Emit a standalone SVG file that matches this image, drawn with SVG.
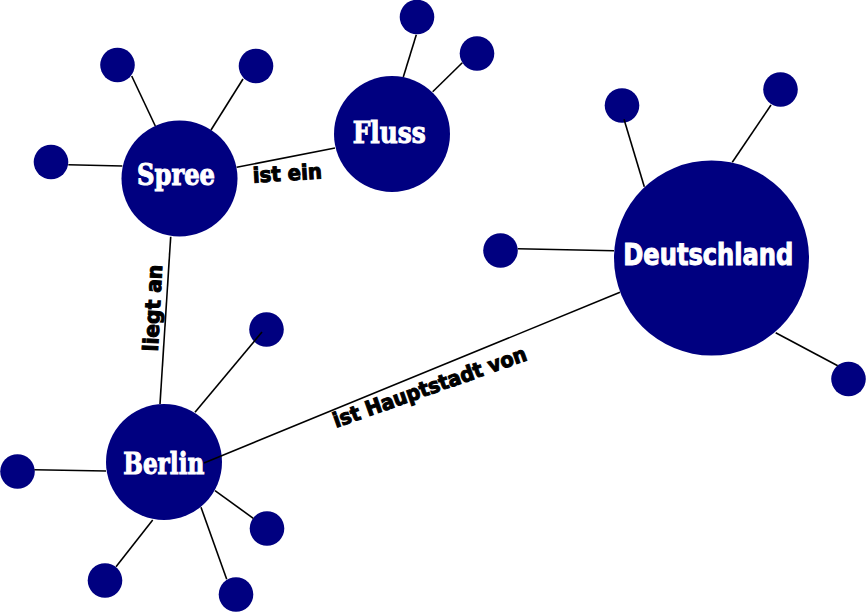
<svg xmlns="http://www.w3.org/2000/svg" width="866" height="612" viewBox="0 0 866 612">
<style>
.node{fill:#000080}
.leaf{fill:#000080}
.link{stroke:#000;stroke-width:1.6;fill:none}
.nl{fill:#fff;stroke:#fff;stroke-width:1;font-family:"DejaVu Serif Condensed","DejaVu Serif",serif;font-weight:bold;font-size:30px}
.nls{fill:#fff;stroke:#fff;stroke-width:1;font-family:"DejaVu Sans Condensed","DejaVu Sans",sans-serif;font-weight:bold;font-size:30px}
.el{fill:#000;stroke:#000;stroke-width:1;font-family:"DejaVu Sans Condensed","DejaVu Sans",sans-serif;font-weight:bold;font-size:21px}
</style>
<rect width="866" height="612" fill="#fff"/>
<g id="spree">
<circle class="node" cx="179.5" cy="178.5" r="58"/>
<circle class="leaf" cx="117.5" cy="65" r="17.3"/>
<circle class="leaf" cx="256" cy="66" r="17.3"/>
<circle class="leaf" cx="51" cy="162" r="17.3"/>
<text class="nl" x="137" y="185" textLength="78" lengthAdjust="spacingAndGlyphs">Spree</text>
</g>
<g id="fluss">
<circle class="node" cx="392" cy="134" r="58"/>
<circle class="leaf" cx="417" cy="17" r="17.3"/>
<circle class="leaf" cx="477" cy="53.5" r="17.3"/>
<text class="nl" x="352.7" y="142.7" textLength="73" lengthAdjust="spacingAndGlyphs">Fluss</text>
</g>
<g id="deutschland">
<circle class="node" cx="711.5" cy="258" r="97.5"/>
<circle class="leaf" cx="622" cy="105.5" r="17.3"/>
<circle class="leaf" cx="780.5" cy="89.5" r="17.3"/>
<circle class="leaf" cx="500.5" cy="250.5" r="17.3"/>
<circle class="leaf" cx="848.5" cy="379" r="17.3"/>
<text class="nls" x="623.3" y="264.7" textLength="170" lengthAdjust="spacingAndGlyphs">Deutschland</text>
</g>
<g id="berlin">
<circle class="node" cx="164" cy="462" r="58"/>
<circle class="leaf" cx="266.5" cy="329.5" r="17.3"/>
<circle class="leaf" cx="17.5" cy="471.5" r="17.3"/>
<circle class="leaf" cx="267" cy="528.5" r="17.3"/>
<circle class="leaf" cx="105" cy="580.5" r="17.3"/>
<circle class="leaf" cx="236" cy="594.5" r="17.3"/>
<text class="nl" x="123.3" y="474" textLength="81" lengthAdjust="spacingAndGlyphs">Berlin</text>
</g>
<g id="connectors">
<line class="link" x1="131.7" y1="76" x2="155.3" y2="126"/>
<line class="link" x1="243" y1="79" x2="211" y2="130"/>
<line class="link" x1="68.3" y1="164.7" x2="122.3" y2="166"/>
<line class="link" x1="236.7" y1="167.3" x2="335" y2="148"/>
<line class="link" x1="170.7" y1="236.7" x2="160" y2="404"/>
<line class="link" x1="403.3" y1="77" x2="416.3" y2="34.7"/>
<line class="link" x1="432.7" y1="91.7" x2="462.3" y2="62.7"/>
<line class="link" x1="624" y1="119.3" x2="644.3" y2="186.7"/>
<line class="link" x1="771" y1="105" x2="732.3" y2="162.3"/>
<line class="link" x1="517.7" y1="248.7" x2="614" y2="250.7"/>
<line class="link" x1="775.7" y1="332.7" x2="837.7" y2="365.7"/>
<line class="link" x1="620" y1="292.3" x2="204" y2="463"/>
<line class="link" x1="262" y1="332" x2="195" y2="412.3"/>
<line class="link" x1="34.3" y1="469.7" x2="106" y2="471"/>
<line class="link" x1="215" y1="490.7" x2="253.3" y2="518.3"/>
<line class="link" x1="152.7" y1="520" x2="116" y2="566.7"/>
<line class="link" x1="201" y1="507.3" x2="226.7" y2="579.3"/>
</g>
<g id="edge-labels">
<text class="el" transform="translate(253.3,182.7) rotate(-3.5)" textLength="69" lengthAdjust="spacingAndGlyphs">ist ein</text>
<text class="el" transform="translate(157.8,351.7) rotate(-87)" textLength="86.7" lengthAdjust="spacingAndGlyphs">liegt an</text>
<text class="el" transform="translate(336,428) rotate(-19.5)" textLength="204" lengthAdjust="spacingAndGlyphs">ist Hauptstadt von</text>
</g>
</svg>
